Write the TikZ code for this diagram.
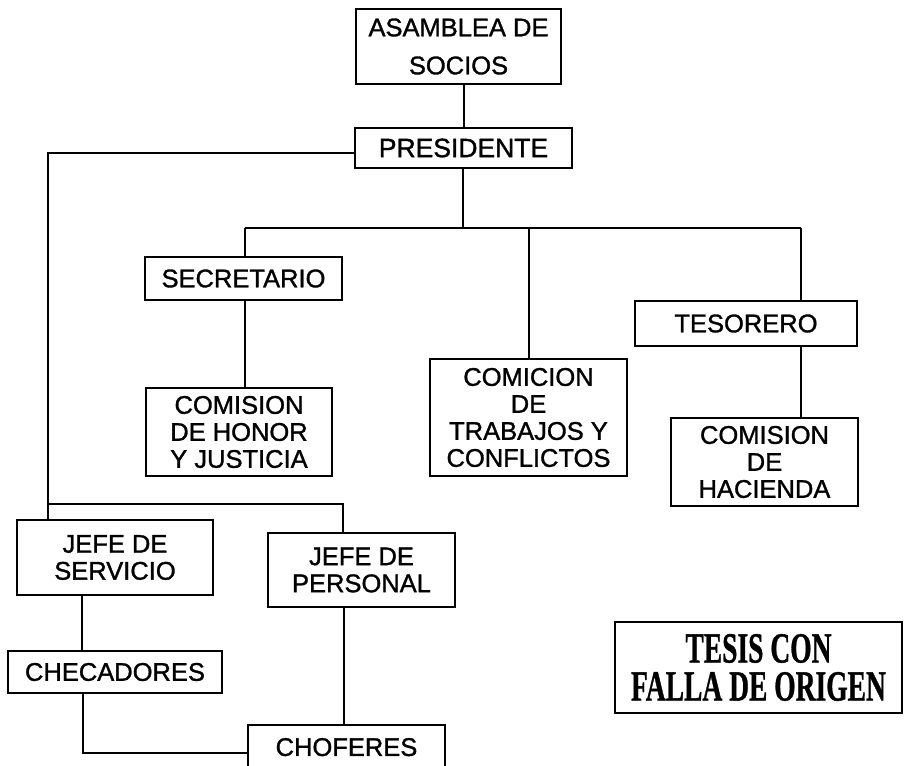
\documentclass[tikz,border=0pt]{standalone}
\usepackage{fontspec}
\setmainfont{Liberation Sans}
\newfontfamily\boxfont{Liberation Sans}[FakeBold=1.2]
\newfontfamily\stampfont{Liberation Serif Bold}[FakeBold=1]
\begin{document}
\begin{tikzpicture}[x=1pt,y=-1pt,
  box/.style={draw,line width=2pt,rectangle,inner sep=0pt,align=center,
    font=\boxfont\fontsize{25.5}{27}\selectfont},
  conn/.style={line width=2pt}]
\useasboundingbox (0,0) rectangle (906,766);
\node[box,minimum width=205pt,minimum height=75pt,font=\boxfont\fontsize{25.5}{38}\selectfont] (asam) at (458.5,46.5) {ASAMBLEA DE\\SOCIOS};
\node[box,minimum width=217pt,minimum height=40pt,font=\boxfont\fontsize{26.5}{27}\selectfont] (pres) at (463.5,148) {PRESIDENTE};
\node[box,minimum width=197pt,minimum height=43pt] (sec) at (243.5,278.5) {SECRETARIO};
\node[box,minimum width=186pt,minimum height=88pt] (honor) at (239,432) {COMISION\\DE HONOR\\Y JUSTICIA};
\node[box,minimum width=197pt,minimum height=117pt] (trab) at (528.5,417.5) {COMICION\\DE\\TRABAJOS Y\\CONFLICTOS};
\node[box,minimum width=222pt,minimum height=45pt] (tes) at (746,323.5) {TESORERO};
\node[box,minimum width=187pt,minimum height=88pt] (hac) at (764.5,462) {COMISION\\DE\\HACIENDA};
\node[box,minimum width=196pt,minimum height=75pt] (serv) at (115,557.5) {JEFE DE\\SERVICIO};
\node[box,minimum width=187pt,minimum height=74pt] (pers) at (361.5,570) {JEFE DE\\PERSONAL};
\node[box,minimum width=214pt,minimum height=42pt] (chec) at (115,672) {CHECADORES};
\node[box,minimum width=197pt,minimum height=50pt,text depth=6pt] (chof) at (346.5,750) {CHOFERES};
\node[draw,line width=2.6pt,minimum width=287pt,minimum height=91pt,inner sep=0pt,align=center,
  font=\stampfont\fontsize{43}{38}\selectfont] (stamp) at (758.5,667.5)
  {\scalebox{0.64}[1]{TESIS CON}\\
   \scalebox{0.64}[1]{FALLA DE ORIGEN}};
% connectors
\coordinate (bar) at (463,228);
\coordinate (barL) at (245,228);
\coordinate (barR) at (801,228);
\coordinate (J) at (48,504);
\coordinate (JP) at (343,504);
\coordinate (sv) at (82,595);
\coordinate (ck) at (83,753);
\coordinate (pv) at (344,607);
\draw[conn] (asam.south -| pres.north) -- (pres.north);
\draw[conn] (pres.south -| bar) -- (bar);
\draw[conn] (barL) -- (barR);
\draw[conn] (barL) -- (barL |- sec.north);
\draw[conn] (trab.north |- bar) -- (trab.north);
\draw[conn] (barR) -- (barR |- tes.north);
\draw[conn] (barR |- tes.south) -- (barR |- hac.north);
\draw[conn] (barL |- sec.south) -- (barL |- honor.north);
\draw[conn] ([yshift=-5pt]pres.west) -| (J) -- (J |- serv.north);
\draw[conn] (J) -| (JP) -- (JP |- pers.north);
\draw[conn] (sv) -- (sv |- chec.north);
\draw[conn] (ck |- chec.south) -- (ck) -- (ck -| chof.west);
\draw[conn] (pv) -- (pv |- chof.north);
\end{tikzpicture}
\end{document}
